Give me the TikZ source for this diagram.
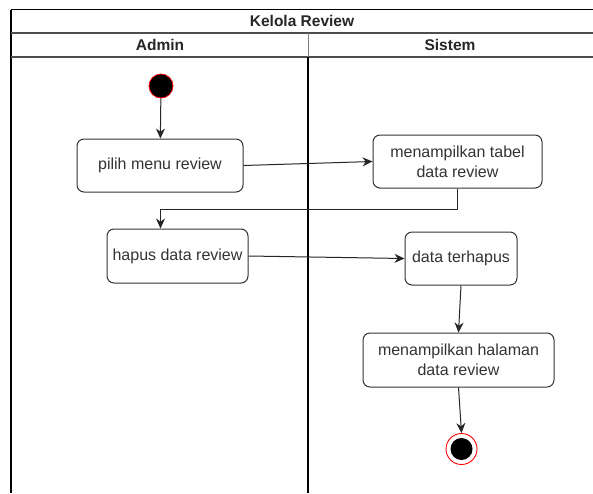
\documentclass[tikz,border=0pt]{standalone}
\usepackage{fontspec}
\setmainfont{Liberation Sans}
\usetikzlibrary{arrows.meta}
\definecolor{boxline}{HTML}{333333}
\definecolor{txt}{HTML}{333333}
\definecolor{sep}{HTML}{4D4D4D}
\tikzset{
  act/.style={draw=boxline, line width=1pt, rounded corners=7pt, fill=white,
    text=txt, font=\fontsize{16}{20}\selectfont, align=center, inner sep=0pt},
  flow/.style={draw=black!85, line width=1pt, -{Stealth[length=10pt,width=9pt]}},
  hdr/.style={font=\bfseries\fontsize{15.5}{18}\selectfont, text=black!85}
}
\begin{document}
\begin{tikzpicture}[x=1pt,y=-1pt]
\useasboundingbox (0,0) rectangle (593,493);
\fill[white] (0,0) rectangle (593,493);
% swimlane frame
\draw[black, line width=1.2pt] (11,9.5) -- (593,9.5);
\draw[black, line width=1.2pt] (11,9.5) -- (11,493);
\draw[sep, line width=1.4pt] (11,33) -- (593,33);
\draw[sep, line width=1.4pt] (11,57) -- (593,57);
\draw[gray, line width=1pt] (308,33) -- (308,57);
\draw[black, line width=1.6pt] (308,57) -- (308,493);
\node[hdr] (title) at (302,21) {Kelola Review};
\node[hdr] (admin) at (160,45) {Admin};
\node[hdr] (sistem) at (450,45) {Sistem};
% start and end
\node[circle, fill=black, draw=red, line width=0.8pt, minimum size=24pt, inner sep=0pt] (start) at (161,86) {};
\node[circle, draw=red, line width=0.9pt, fill=white, minimum size=31pt, inner sep=0pt] (endring) at (461.5,449) {};
\node[circle, fill=black, minimum size=22pt, inner sep=0pt] (enddot) at (461.5,449) {};
% activities
\node[act, minimum width=166pt, minimum height=53pt] (pilih) at (160,165.5) {pilih menu review};
\node[act, minimum width=169pt, minimum height=53pt] (tabel) at (457.5,161.5) {menampilkan tabel\\data review};
\node[act, minimum width=141pt, minimum height=54pt] (hapus) at (177.5,256) {hapus data review};
\node[act, minimum width=112pt, minimum height=53pt] (terhapus) at (461,258.5) {data terhapus};
\node[act, minimum width=191pt, minimum height=54pt] (halaman) at (458.5,360) {menampilkan halaman\\data review};
% flows
\coordinate (bend1) at (457.5,209);
\coordinate (bend2) at (160.5,209);
\draw[flow] (start) -- (pilih);
\draw[flow] (pilih.east) -- (tabel.west);
\draw[flow] (tabel.south) -- (bend1) -- (bend2) -- (bend2 |- hapus.north);
\draw[flow] (hapus.east) -- (terhapus.west);
\draw[flow] (terhapus.south) -- (halaman.north);
\draw[flow] (halaman.south) -- (endring.north);
\end{tikzpicture}
\end{document}
